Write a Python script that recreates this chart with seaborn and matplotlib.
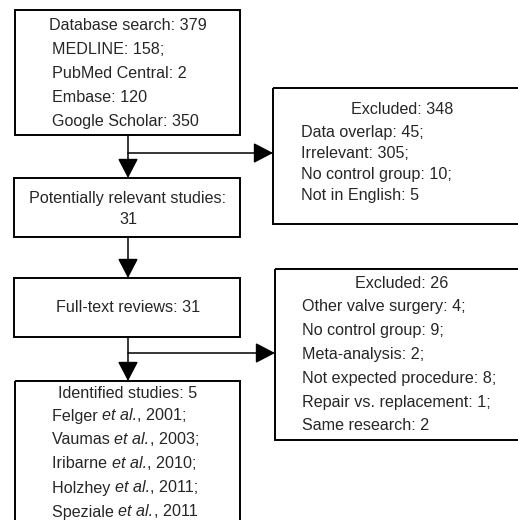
import matplotlib
matplotlib.use("Agg")
import matplotlib.pyplot as plt
import seaborn as sns
from matplotlib.patches import Rectangle

sns.set_theme(style="white")
plt.rcParams["font.family"] = ["Liberation Sans", "DejaVu Sans"]

# Flow counts and box texts
search_title = "Database search: 379"
search_lines = ["MEDLINE: 158;", "PubMed Central: 2", "Embase: 120", "Google Scholar: 350"]
excl1_title = "Excluded: 348"
excl1_lines = ["Data overlap: 45;", "Irrelevant: 305;", "No control group: 10;", "Not in English: 5"]
relevant_lines = ["Potentially relevant studies:", "31"]
fulltext_line = "Full-text reviews: 31"
excl2_title = "Excluded: 26"
excl2_lines = ["Other valve surgery: 4;", "No control group: 9;", "Meta-analysis: 2;",
               "Not expected procedure: 8;", "Repair vs. replacement: 1;", "Same research: 2"]
ident_title = "Identified studies: 5"
authors = ["Felger", "Vaumas", "Iribarne", "Holzhey", "Speziale"]
years = ["2001;", "2003;", "2010;", "2011;", "2011"]

fig = plt.figure(figsize=(5.18, 5.20), dpi=100)
ax = fig.add_axes([0, 0, 1, 1])
ax.set_xlim(0, 518)
ax.set_ylim(520, 0)
ax.axis("off")
renderer = fig.canvas.get_renderer()

fs = 11.6


def box(x0, y0, x1, y1):
    ax.add_patch(Rectangle((x0, y0), x1 - x0, y1 - y0, fill=False, ec="black", lw=1.4))


def arrow(x0, y0, x1, y1):
    ax.annotate("", xy=(x1, y1), xytext=(x0, y0),
                arrowprops=dict(arrowstyle="-|>,head_length=1.15,head_width=0.6",
                                mutation_scale=10.5, lw=1.1, color="black",
                                shrinkA=0, shrinkB=0))


# left column boxes
box(15, 10, 240, 135)
ax.text(128, 26, search_title, ha="center", va="center", fontsize=fs)
for i, s in enumerate(search_lines):
    ax.text(52, 49 + i * 24.3, s, ha="left", va="center", fontsize=fs)

box(14, 178, 240, 237)
ax.text(128, 198, relevant_lines[0], ha="center", va="center", fontsize=fs)
ax.text(128, 220, relevant_lines[1], ha="center", va="center", fontsize=fs)

box(14, 278, 240, 337)
ax.text(128, 308, fulltext_line, ha="center", va="center", fontsize=fs)

box(15, 381, 240, 540)
ax.text(128, 393, ident_title, ha="center", va="center", fontsize=fs)
for i, (a, y) in enumerate(zip(authors, years)):
    x = 52
    yy = 416 + i * 24
    for piece, style in [(a + " ", "normal"), ("et al.", "italic"), (", " + y, "normal")]:
        t = ax.text(x, yy, piece, ha="left", va="center", fontsize=fs, fontstyle=style)
        x += t.get_window_extent(renderer).width

# right column boxes
box(273, 88, 530, 224)
ax.text(402, 110, excl1_title, ha="center", va="center", fontsize=fs)
for i, s in enumerate(excl1_lines):
    ax.text(301, 132 + i * 21.3, s, ha="left", va="center", fontsize=fs)

box(275, 269, 530, 440)
ax.text(402, 283, excl2_title, ha="center", va="center", fontsize=fs)
for i, s in enumerate(excl2_lines):
    ax.text(302, 306 + i * 24, s, ha="left", va="center", fontsize=fs)

# connectors
arrow(128, 135, 128, 178)
arrow(128, 153, 273, 153)
arrow(128, 237, 128, 278)
arrow(128, 337, 128, 381)
arrow(128, 353, 275, 353)

fig.savefig("out.png", dpi=100)
